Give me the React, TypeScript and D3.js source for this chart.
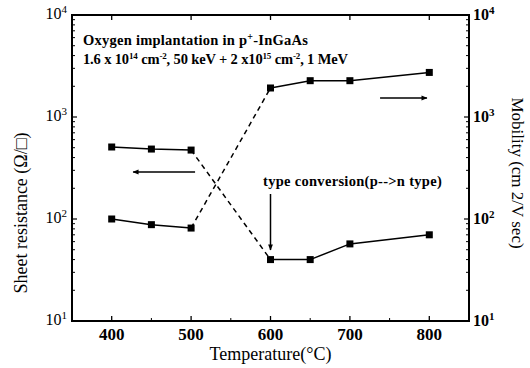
import React from "react";
import * as d3 from "d3";

const temps = [400, 450, 500, 600, 650, 700, 800];
const sheetResistance = [508, 485, 474, 40, 40, 57, 70];
const mobility = [100, 88, 81.5, 1925, 2270, 2270, 2735];
const xMajorTicks = [400, 500, 600, 700, 800];
const xMinorTicks = [450, 550, 650, 750];
const yDecades = [10, 100, 1000, 10000];
const yExponents = ["1", "2", "3", "4"];

const W = 530, H = 368;
const L = 72, R = 469, T = 15, B = 321;

export default function App() {
  const x = d3.scaleLinear().domain([350, 850]).range([L, R]);
  const y = d3.scaleLog().domain([10, 10000]).range([B, T]);

  const minor: number[] = [];
  for (let d = 10; d < 10000; d *= 10) for (let k = 2; k <= 9; k++) minor.push(d * k);

  const line = d3.line<[number, number]>().x(d => x(d[0])).y(d => y(d[1]));
  const seg = (vals: number[], i0: number, i1: number) =>
    temps.slice(i0, i1 + 1).map((t, i) => [t, vals[i0 + i]] as [number, number]);

  const serif = "'Liberation Serif', 'DejaVu Serif', serif";

  const series = [sheetResistance, mobility];
  const ann = { fontSize: 14.5, fontWeight: "bold" as const };

  return (
    <svg width={W} height={H} style={{ position: "absolute", left: 0, top: 0 }} fontFamily={serif}>
      <defs>
        <marker id="ah" viewBox="0 0 10 10" refX="9" refY="5" markerWidth="7" markerHeight="6" orient="auto-start-reverse" markerUnits="userSpaceOnUse">
          <path d="M0,1 L10,5 L0,9 Z" fill="#000" />
        </marker>
      </defs>
      <rect width={W} height={H} fill="#fff" />
      <rect x={L} y={T} width={R - L} height={B - T} fill="none" stroke="#000" strokeWidth={2} />
      {xMajorTicks.map(t => (
        <g key={"xt" + t}>
          <line x1={x(t)} x2={x(t)} y1={B} y2={B - 5} stroke="#000" strokeWidth={1.3} />
          <line x1={x(t)} x2={x(t)} y1={T} y2={T + 5} stroke="#000" strokeWidth={1.3} />
          <text x={x(t)} y={B + 19} textAnchor="middle" fontSize={17} fontWeight="bold">{t}</text>
        </g>
      ))}
      {xMinorTicks.map(t => (
        <line key={"xm" + t} x1={x(t)} x2={x(t)} y1={B} y2={B - 3} stroke="#000" strokeWidth={1} />
      ))}
      {yDecades.map((v, i) => (
        <g key={"yd" + v}>
          <line x1={L} x2={L + 5} y1={y(v)} y2={y(v)} stroke="#000" strokeWidth={1.2} />
          <line x1={R} x2={R - 5} y1={y(v)} y2={y(v)} stroke="#000" strokeWidth={1.2} />
          <text x={L - 5} y={y(v) + 4} textAnchor="end" fontSize={16}>
            10<tspan dy={-6} fontSize={11}>{yExponents[i]}</tspan>
          </text>
          <text x={R + 4} y={y(v) + 5} textAnchor="start" fontSize={16} fontWeight="bold">
            10<tspan dy={-6} fontSize={11}>{yExponents[i]}</tspan>
          </text>
        </g>
      ))}
      {minor.map(v => (
        <g key={"ym" + v}>
          <line x1={L} x2={L + 3} y1={y(v)} y2={y(v)} stroke="#000" strokeWidth={1} />
          <line x1={R} x2={R - 3} y1={y(v)} y2={y(v)} stroke="#000" strokeWidth={1} />
        </g>
      ))}
      {series.map((vals, si) => (
        <g key={"s" + si}>
          <path d={line(seg(vals, 0, 2)) || ""} fill="none" stroke="#000" strokeWidth={1.5} />
          <path d={line(seg(vals, 2, 3)) || ""} fill="none" stroke="#000" strokeWidth={1.5} strokeDasharray="5,4" />
          <path d={line(seg(vals, 3, 6)) || ""} fill="none" stroke="#000" strokeWidth={1.5} />
          {temps.map((t, i) => (
            <rect key={i} x={x(t) - 3.5} y={y(vals[i]) - 3.5} width={7} height={7} fill="#000" />
          ))}
        </g>
      ))}
      <line x1={x(505)} y1={172} x2={x(427)} y2={172} stroke="#000" strokeWidth={1.5} markerEnd="url(#ah)" />
      <line x1={x(738)} y1={98} x2={x(797)} y2={98} stroke="#000" strokeWidth={1.5} markerEnd="url(#ah)" />
      <line x1={x(600)} y1={194} x2={x(600)} y2={250} stroke="#000" strokeWidth={1.5} markerEnd="url(#ah)" />
      <text x={83} y={45} {...ann} textLength={225} lengthAdjust="spacing">
        Oxygen implantation in p<tspan dy={-5} fontSize={10}>+</tspan><tspan dy={5}>-InGaAs</tspan>
      </text>
      <text x={83} y={64} {...ann} textLength={265} lengthAdjust="spacing">
        1.6 x 10<tspan dy={-5} fontSize={9}>14</tspan><tspan dy={5}> cm</tspan><tspan dy={-5} fontSize={9}>-2</tspan><tspan dy={5}>, 50 keV + 2 x10</tspan><tspan dy={-5} fontSize={9}>15</tspan><tspan dy={5}> cm</tspan><tspan dy={-5} fontSize={9}>-2</tspan><tspan dy={5}>, 1 MeV</tspan>
      </text>
      <text x={263} y={186} {...ann} letterSpacing={0.3}>type conversion(p--&gt;n type)</text>
      <text x={(L + R) / 2} y={360} textAnchor="middle" fontSize={18}>Temperature(°C)</text>
      <text transform={`translate(27,${(T + B) / 2 + 45}) rotate(-90)`} textAnchor="middle" fontSize={18}>Sheet resistance (Ω/□)</text>
      <text transform={`translate(512,${173}) rotate(90)`} textAnchor="middle" fontSize={17}>Mobility (cm  2/V sec)</text>
    </svg>
  );
}
